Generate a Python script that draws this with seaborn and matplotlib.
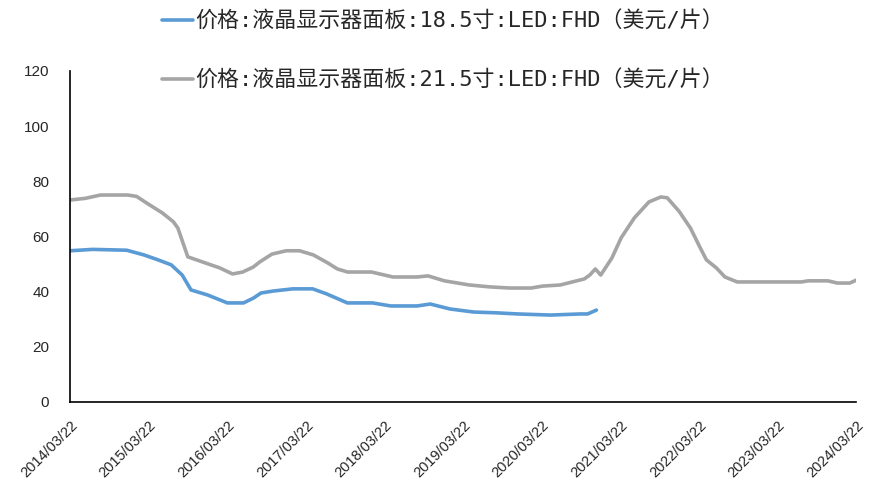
import seaborn as sns
import matplotlib.pyplot as plt
import pandas as pd

sns.set_style("white")
plt.rcParams['font.family'] = ['Noto Sans CJK SC', 'DejaVu Sans']

label_185 = '价格:液晶显示器面板:18.5寸:LED:FHD（美元/片）'
label_215 = '价格:液晶显示器面板:21.5寸:LED:FHD（美元/片）'

dates_185 = ['2014-03-22', '2014-07-05', '2014-12-10', '2015-02-28', '2015-05-05',
             '2015-07-05', '2015-08-25', '2015-10-05', '2015-12-20', '2016-03-22',
             '2016-06-05', '2016-07-22', '2016-08-25', '2016-10-20', '2017-01-20',
             '2017-04-22', '2017-06-25', '2017-09-30', '2018-01-25', '2018-04-20',
             '2018-08-20', '2018-10-20', '2019-01-20', '2019-05-10', '2019-08-25',
             '2019-12-01', '2020-05-01', '2020-09-15', '2020-10-20', '2020-11-30']
price_185 = [54.8, 55.3, 55.0, 53.3, 51.5,
             49.7, 46.0, 40.6, 38.8, 35.9,
             35.9, 37.7, 39.5, 40.2, 41.0,
             41.0, 39.2, 35.9, 35.9, 34.8,
             34.8, 35.5, 33.7, 32.6, 32.3,
             31.9, 31.5, 31.9, 31.9, 33.3]

dates_215 = ['2014-03-22', '2014-06-01', '2014-08-10', '2014-12-15', '2015-01-25',
             '2015-03-15', '2015-05-25', '2015-07-15', '2015-08-05', '2015-09-20',
             '2015-12-10', '2016-02-15', '2016-04-15', '2016-06-01', '2016-07-20',
             '2016-08-20', '2016-10-15', '2016-12-20', '2017-02-20', '2017-04-25',
             '2017-07-01', '2017-08-15', '2017-10-01', '2018-01-20', '2018-04-30',
             '2018-08-20', '2018-10-10', '2018-12-25', '2019-04-20', '2019-07-25',
             '2019-10-25', '2020-02-01', '2020-03-25', '2020-06-15', '2020-08-10',
             '2020-10-05', '2020-10-30', '2020-11-25', '2020-12-20', '2021-02-10',
             '2021-03-25', '2021-05-25', '2021-08-01', '2021-09-25', '2021-10-25',
             '2021-12-20', '2022-02-10', '2022-03-25', '2022-04-25', '2022-06-10',
             '2022-07-20', '2022-09-15', '2023-07-10', '2023-08-10', '2023-11-10',
             '2023-12-25', '2024-02-20', '2024-03-22']
price_215 = [73.2, 73.8, 75.0, 75.0, 74.5,
             72.0, 68.5, 65.3, 63.0, 52.6,
             50.4, 48.6, 46.4, 47.1, 48.9,
             50.8, 53.6, 54.8, 54.8, 53.3,
             50.4, 48.2, 47.1, 47.1, 45.3,
             45.3, 45.7, 43.9, 42.4, 41.7,
             41.3, 41.3, 42.0, 42.4, 43.5,
             44.6, 46.0, 48.2, 46.0, 52.2,
             59.5, 66.7, 72.5, 74.3, 74.0,
             69.0, 63.0, 56.2, 51.5, 48.6,
             45.3, 43.5, 43.5, 43.9, 43.9,
             43.1, 43.1, 44.2]

df_185 = pd.DataFrame({'date': pd.to_datetime(dates_185), 'price': price_185})
df_215 = pd.DataFrame({'date': pd.to_datetime(dates_215), 'price': price_215})

fig = plt.figure(figsize=(8.69, 4.82), dpi=100)
ax = fig.add_axes([0.0806, 0.166, 0.905, 0.687])

sns.lineplot(data=df_185, x='date', y='price', ax=ax, color='#5B9BD5', linewidth=2.6, label=label_185)
sns.lineplot(data=df_215, x='date', y='price', ax=ax, color='#A5A5A5', linewidth=2.6, label=label_215)

ax.set_xlim(pd.Timestamp('2014-03-22'), pd.Timestamp('2024-03-22'))
ax.set_ylim(0, 120)
ax.set_yticks(range(0, 121, 20))
ticks = [pd.Timestamp(f'{y}-03-22') for y in range(2014, 2025)]
ax.set_xticks(ticks)
ax.set_xticklabels([t.strftime('%Y/%m/%d') for t in ticks], rotation=45, ha='right',
                   rotation_mode='anchor', family=['Liberation Sans'], fontsize=10.5)
for t in ax.get_yticklabels():
    t.set_family(['Liberation Sans'])
    t.set_fontsize(11)
ax.set_xlabel('')
ax.set_ylabel('')

for s in ['top', 'right']:
    ax.spines[s].set_visible(False)
for s in ['left', 'bottom']:
    ax.spines[s].set_color('black')
    ax.spines[s].set_linewidth(1.2)
ax.tick_params(axis='y', direction='out', length=5, width=1, color='black', pad=10)
ax.tick_params(axis='x', direction='in', length=5, width=1, color='black', pad=12)

ax.legend_.remove()
handles, labels = ax.get_legend_handles_labels()
fig.legend(handles, labels, loc='upper center', bbox_to_anchor=(0.51, 1.02), frameon=False,
           prop={'family': ['DejaVu Sans Mono', 'Noto Sans CJK SC'], 'size': 15.8},
           handlelength=1.4, handletextpad=0.1, labelspacing=1.75)

fig.savefig('out.png', dpi=100)
